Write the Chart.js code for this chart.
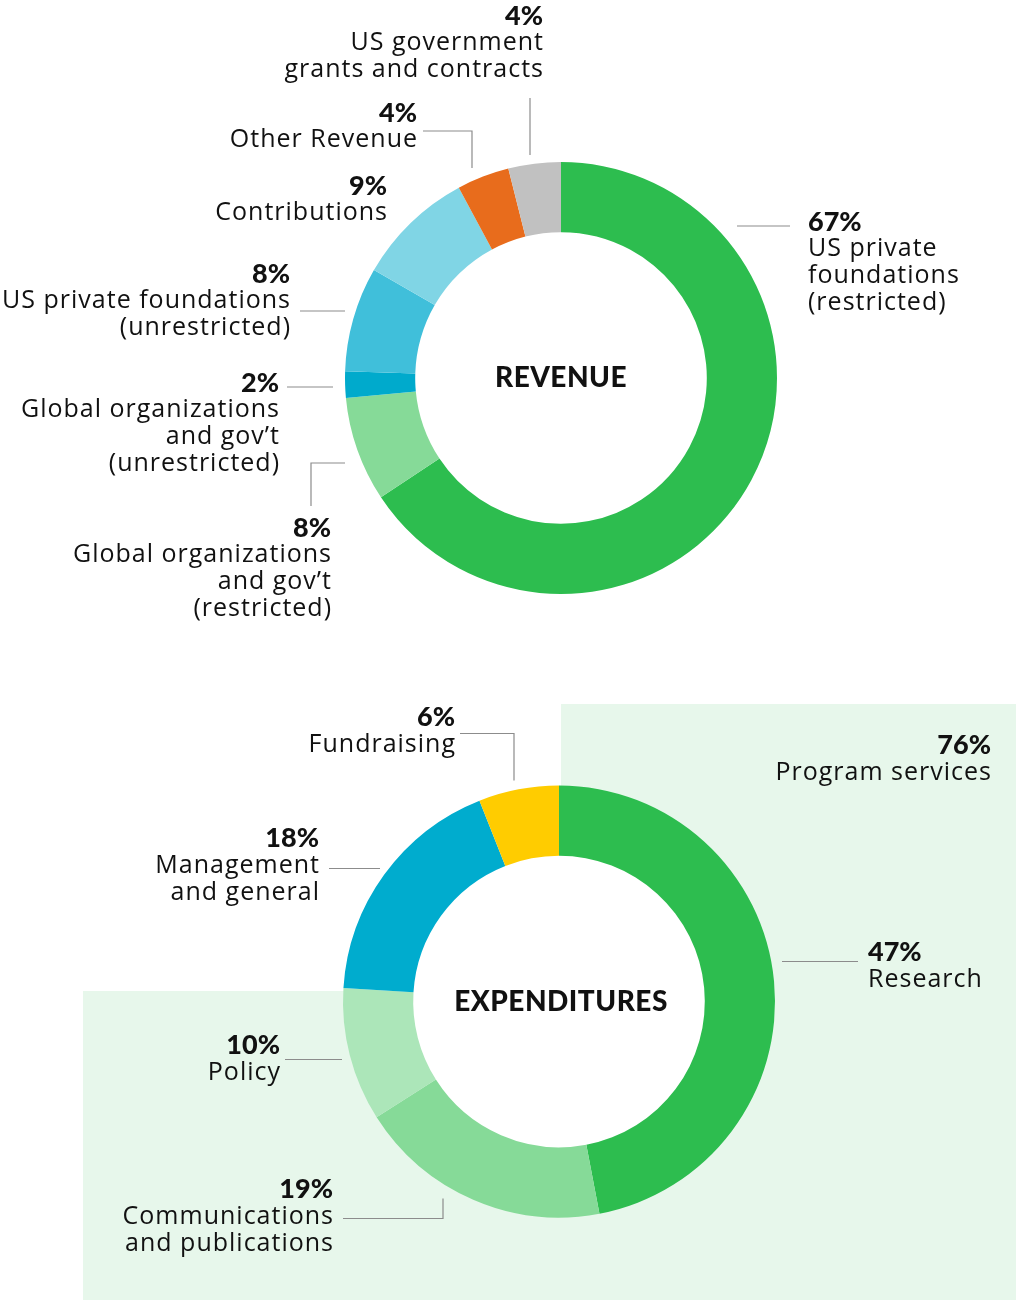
<!DOCTYPE html>
<html>
<head>
<meta charset="utf-8">
<script src="https://cdn.jsdelivr.net/npm/chart.js@4.4.1/dist/chart.umd.min.js"></script>
<style>
  html, body { margin: 0; padding: 0; background: #fff; }
  #wrap { position: relative; width: 1016px; height: 1300px; }
  #wrap canvas { position: absolute; left: 0; }
  #revenueChart { top: 0; }
  #expenseChart { top: 650px; }
</style>
</head>
<body>
<div id="wrap">
  <canvas id="revenueChart" width="1016" height="650"></canvas>
  <canvas id="expenseChart" width="1016" height="650"></canvas>
</div>
<script>
// --- data ---
const revenueCategories = [
  ["US private", "foundations", "(restricted)"],
  ["Global organizations", "and gov\u2019t", "(restricted)"],
  ["Global organizations", "and gov\u2019t", "(unrestricted)"],
  ["US private foundations", "(unrestricted)"],
  ["Contributions"],
  ["Other Revenue"],
  ["US government", "grants and contracts"],
];
const revenueValues = [67, 8, 2, 8, 9, 4, 4];
const revenueColors = ["#2dbd4f", "#86da98", "#00aacc", "#40bfda", "#80d5e5", "#e86c1c", "#c1c1c1"];

const expenseCategories = [
  ["Research"],
  ["Communications", "and publications"],
  ["Policy"],
  ["Management", "and general"],
  ["Fundraising"],
];
const expenseValues = [47, 19, 10, 18, 6];
const expenseColors = ["#2dbd4f", "#86da98", "#ace6b9", "#00acce", "#ffcc00"];
const programServiceSlices = [0, 1, 2]; // research + comms + policy

// label placement, offsets from the doughnut centre
const revenueLabelLayout = [
  { dx: 247, dy: -156, align: "left", line: [[176, -152], [229, -152]] },
  { dx: -230, dy: 150, align: "right", line: [[-250, 128], [-250, 85], [-216, 85]] },
  { dx: -282, dy: 5, align: "right", line: [[-274, 9], [-228, 9]] },
  { dx: -271, dy: -104, align: "right", line: [[-261, -67], [-216, -67]] },
  { dx: -174, dy: -192, align: "right", line: null },
  { dx: -144, dy: -265, align: "right", line: [[-138, -247], [-89, -247], [-89, -210]] },
  { dx: -18, dy: -362, align: "right", line: [[-31, -280], [-31, -223]] },
];
const expenseLabelLayout = [
  { dx: 309, dy: -49, align: "left", line: [[223, -40], [299, -40]] },
  { dx: -226, dy: 188, align: "right", line: [[-216, 217], [-116, 217], [-116, 197]] },
  { dx: -279, dy: 44, align: "right", line: [[-274, 58], [-217, 58]] },
  { dx: -240, dy: -163, align: "right", line: [[-230, -133], [-179, -133]] },
  { dx: -104, dy: -284, align: "right", line: [[-99, -268], [-45, -268], [-45, -221]] },
];

const BOLD = "Lato, sans-serif";
const BODY = "'Open Sans', Lato, sans-serif";
const LINE_H = 27;

function drawLabel(ctx, x, y, align, pct, lines) {
  ctx.textAlign = align;
  ctx.textBaseline = "middle";
  ctx.fillStyle = "#111";
  ctx.letterSpacing = "0px";
  ctx.font = "900 27px " + BOLD;
  ctx.fillText(pct, x, y);
  ctx.font = "400 25px " + BODY;
  ctx.letterSpacing = "1px";
  const shift = align === "right" ? 1 : 0; // trailing letter spacing
  lines.forEach((t, i) => ctx.fillText(t, x + shift, y + LINE_H * (i + 1)));
  ctx.letterSpacing = "0px";
}

const donutLabels = {
  id: "donutLabels",
  beforeDraw(chart, args, opts) {
    const ctx = chart.ctx;
    ctx.save();
    ctx.fillStyle = "#e7f7eb";
    (opts.panels || []).forEach(p => ctx.fillRect(p[0], p[1], p[2], p[3]));
    ctx.restore();
  },
  beforeDatasetsDraw(chart) {
    // white hole behind the ring
    const arc = chart.getDatasetMeta(0).data[0];
    const ctx = chart.ctx;
    ctx.save();
    ctx.fillStyle = "#fff";
    ctx.beginPath();
    ctx.arc(arc.x, arc.y, arc.innerRadius + 1, 0, Math.PI * 2);
    ctx.fill();
    ctx.restore();
  },
  afterDraw(chart, args, opts) {
    const ctx = chart.ctx;
    const arc = chart.getDatasetMeta(0).data[0];
    const cx = arc.x, cy = arc.y;
    const values = chart.data.datasets[0].data;
    ctx.save();
    opts.layout.forEach((l, i) => {
      if (l.line) {
        ctx.beginPath();
        ctx.strokeStyle = "#8c8c8c";
        ctx.lineWidth = 1.2;
        l.line.forEach((p, j) => j ? ctx.lineTo(cx + p[0], cy + p[1]) : ctx.moveTo(cx + p[0], cy + p[1]));
        ctx.stroke();
      }
      drawLabel(ctx, cx + l.dx, cy + l.dy, l.align, values[i] + "%", opts.names[i]);
    });
    if (opts.extra) {
      const e = opts.extra;
      drawLabel(ctx, cx + e.dx, cy + e.dy, e.align, e.value + "%", e.lines);
    }
    ctx.font = "900 28px " + BOLD;
    ctx.letterSpacing = "0.5px";
    ctx.textAlign = "center";
    ctx.textBaseline = "middle";
    ctx.fillStyle = "#111";
    ctx.fillText(opts.title, cx + (opts.titleDx || 0), cy);
    ctx.restore();
  }
};

function makeDonut(id, values, colors, padding, pluginOpts) {
  return new Chart(document.getElementById(id), {
    type: "doughnut",
    data: {
      labels: pluginOpts.names.map(n => n.join(" ")),
      datasets: [{
        data: values,
        backgroundColor: colors,
        borderWidth: 0,
        hoverOffset: 0,
        offset: 0,
      }],
    },
    options: {
      responsive: false,
      animation: false,
      cutout: "67.5%",
      layout: { padding },
      events: [],
      plugins: {
        legend: { display: false },
        tooltip: { enabled: false },
        donutLabels: pluginOpts,
      },
    },
    plugins: [donutLabels],
  });
}

makeDonut("revenueChart", revenueValues, revenueColors,
  { left: 345, right: 239, top: 162, bottom: 56 },
  { names: revenueCategories, layout: revenueLabelLayout, title: "REVENUE" });

makeDonut("expenseChart", expenseValues, expenseColors,
  { left: 343, right: 241, top: 135, bottom: 82 },
  {
    names: expenseCategories,
    layout: expenseLabelLayout,
    title: "EXPENDITURES",
    titleDx: 2,
    panels: [[561, 54, 455, 596], [83, 341, 478, 309]],
    extra: {
      dx: 432, dy: -256, align: "right",
      value: programServiceSlices.reduce((s, i) => s + expenseValues[i], 0),
      lines: ["Program services"],
    },
  });
</script>
</body>
</html>
